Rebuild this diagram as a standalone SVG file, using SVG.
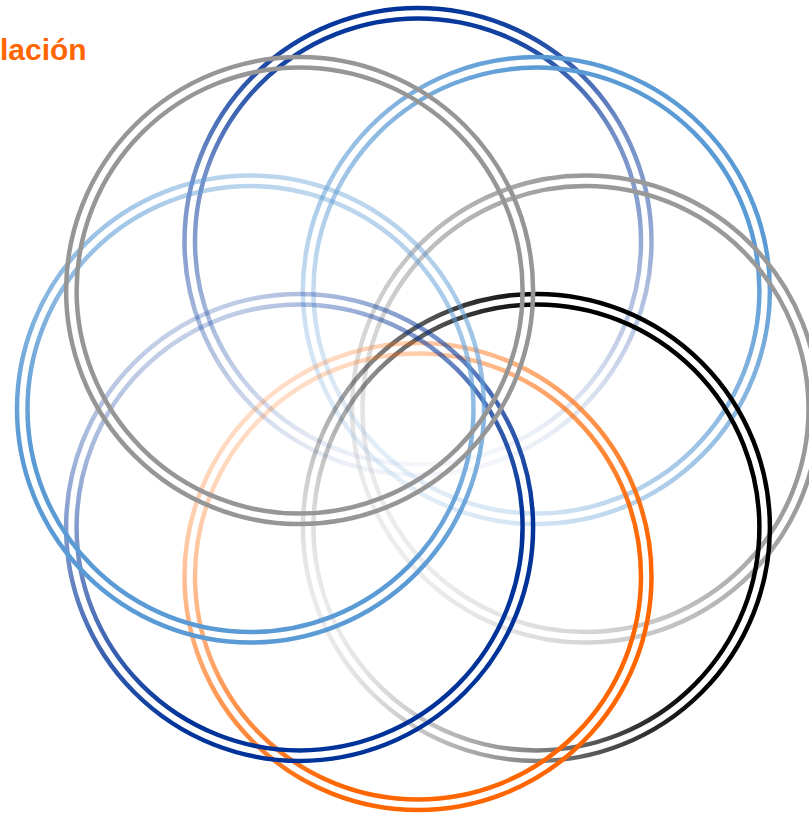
<svg xmlns="http://www.w3.org/2000/svg" width="809" height="816" viewBox="0 0 809 816">
  <defs>
    <linearGradient id="gTop" x1="0.45" y1="0" x2="0.55" y2="1">
      <stop offset="0" stop-color="#003399" stop-opacity="1"/>
      <stop offset="0.08" stop-color="#003399" stop-opacity="0.9"/>
      <stop offset="0.3" stop-color="#003399" stop-opacity="0.55"/>
      <stop offset="0.5" stop-color="#003399" stop-opacity="0.45"/>
      <stop offset="1" stop-color="#003399" stop-opacity="0.04"/>
    </linearGradient>
    <linearGradient id="gTR" x1="0.9" y1="0" x2="0.1" y2="1">
      <stop offset="0.2" stop-color="#5b9bd5" stop-opacity="1"/>
      <stop offset="1" stop-color="#5b9bd5" stop-opacity="0.05"/>
    </linearGradient>
    <linearGradient id="gR" x1="1" y1="0.1" x2="0" y2="0.8">
      <stop offset="0.3" stop-color="#999999" stop-opacity="1"/>
      <stop offset="1" stop-color="#999999" stop-opacity="0.1"/>
    </linearGradient>
    <linearGradient id="gBR" x1="1" y1="0.2" x2="0" y2="0.6">
      <stop offset="0.35" stop-color="#000000" stop-opacity="1"/>
      <stop offset="1" stop-color="#000000" stop-opacity="0.08"/>
    </linearGradient>
    <linearGradient id="gB" x1="0.9" y1="1" x2="0.1" y2="0">
      <stop offset="0.3" stop-color="#ff6600" stop-opacity="1"/>
      <stop offset="1" stop-color="#ff6600" stop-opacity="0.08"/>
    </linearGradient>
    <linearGradient id="gBL" x1="0.8" y1="1" x2="0.2" y2="0">
      <stop offset="0.3" stop-color="#003399" stop-opacity="1"/>
      <stop offset="1" stop-color="#003399" stop-opacity="0.15"/>
    </linearGradient>
    <linearGradient id="gL" x1="0.3" y1="1" x2="0.6" y2="0">
      <stop offset="0.3" stop-color="#5b9bd5" stop-opacity="1"/>
      <stop offset="1" stop-color="#5b9bd5" stop-opacity="0.4"/>
    </linearGradient>
  </defs>
  <style>
    .ring { fill: none; stroke-width: 4.5; }
    .label { font-family: "Liberation Sans", Arial, sans-serif; font-weight: bold; font-size: 30px; fill: #ff6600; }
  </style>

  <text class="label" x="0" y="60">lación</text>

  <g id="circle-top">
    <circle class="ring" cx="418" cy="241.5" r="233.5" stroke="url(#gTop)"/>
    <circle class="ring" cx="418" cy="241.5" r="223" stroke="url(#gTop)"/>
  </g>
  <g id="circle-top-right">
    <circle class="ring" cx="536.4" cy="290.6" r="233.5" stroke="url(#gTR)"/>
    <circle class="ring" cx="536.4" cy="290.6" r="223" stroke="url(#gTR)"/>
  </g>
  <g id="circle-right">
    <circle class="ring" cx="585.5" cy="409" r="233.5" stroke="url(#gR)"/>
    <circle class="ring" cx="585.5" cy="409" r="223" stroke="url(#gR)"/>
  </g>
  <g id="circle-bottom-right">
    <circle class="ring" cx="536.4" cy="527.4" r="233.5" stroke="url(#gBR)"/>
    <circle class="ring" cx="536.4" cy="527.4" r="223" stroke="url(#gBR)"/>
  </g>
  <g id="circle-bottom">
    <circle class="ring" cx="418" cy="576.5" r="233.5" stroke="url(#gB)"/>
    <circle class="ring" cx="418" cy="576.5" r="223" stroke="url(#gB)"/>
  </g>
  <g id="circle-bottom-left">
    <circle class="ring" cx="299.6" cy="527.4" r="233.5" stroke="url(#gBL)"/>
    <circle class="ring" cx="299.6" cy="527.4" r="223" stroke="url(#gBL)"/>
  </g>
  <g id="circle-left">
    <circle class="ring" cx="250.5" cy="409" r="233.5" stroke="url(#gL)"/>
    <circle class="ring" cx="250.5" cy="409" r="223" stroke="url(#gL)"/>
  </g>
  <g id="circle-top-left">
    <circle class="ring" cx="299.6" cy="290.6" r="233.5" stroke="#969696"/>
    <circle class="ring" cx="299.6" cy="290.6" r="223" stroke="#969696"/>
  </g>
  <g id="connectors"/>
</svg>
